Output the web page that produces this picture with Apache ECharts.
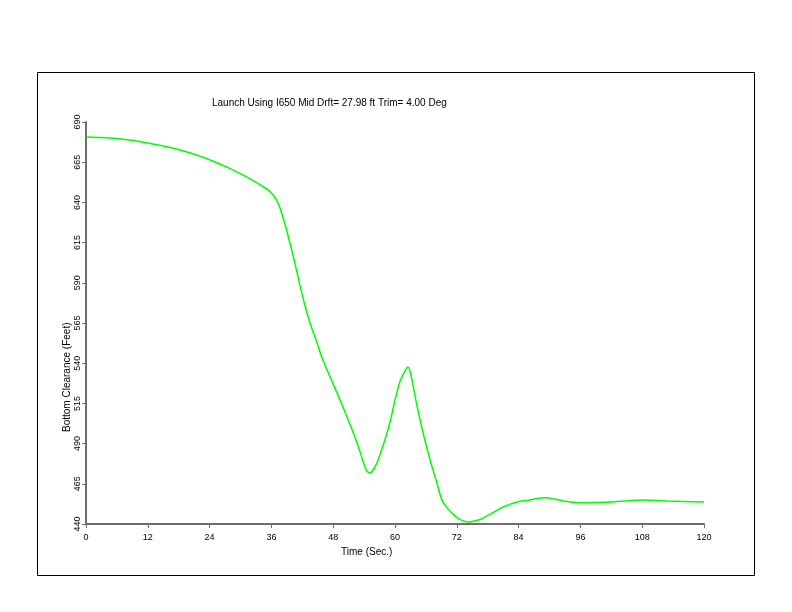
<!DOCTYPE html>
<html>
<head>
<meta charset="utf-8">
<script src="https://cdn.jsdelivr.net/npm/echarts@6/dist/echarts.min.js"></script>
<style>html,body{margin:0;padding:0;background:#fff}#c{width:792px;height:612px}</style>
</head>
<body>
<div id="c"></div>
<script>
const titleText = "Launch Using I650 Mid Drft= 27.98 ft Trim= 4.00 Deg";
const xName = "Time (Sec.)";
const yName = "Bottom Clearance (Feet)";
const yMin = 440, yMax = 690, yStep = 25;
const xMin = 0, xMax = 120, xStep = 12;
const timeSec = [0,4,8,12,16,20,24,28,32,34,35.5,36.5,37.5,38.5,39.5,40.5,41.5,42.5,43.5,44.5,46,48,50,52,53,54,54.5,55,55.5,56.5,58,59,60,61,62,62.5,63,64.3,65.5,66.8,68,69.1,70,71.3,72.5,74.2,76,77.1,79,81,83.7,86,88.2,89.5,91,94,96,102.3,108.2,112.8,120];
const clearanceFt = [680.7,680.2,679,677,674.5,671,666.5,661,654.5,650.5,647.5,644,638,628,616,603,589,576,565,556,542,527,512,496,487,477,473,471.7,472.5,478,492,503,517,529,535.5,537.6,534,513,496,480,467,455,450.5,446,443,441.2,442.3,443.7,447,450.6,453.7,454.8,456.2,456.3,455.5,453.7,453.2,453.7,454.9,454.3,453.7];

const seriesData = timeSec.map((t, i) => [t, clearanceFt[i] - yMin]);
const chart = echarts.init(document.getElementById('c'), null, {renderer: 'canvas'});
const axisCol = '#6e6e6e';
chart.setOption({
  animation: false,
  backgroundColor: '#fff',
  grid: {left: 86, right: 88, top: 122, bottom: 88},
  xAxis: {
    type: 'value', min: xMin, max: xMax, interval: xStep,
    axisLine: {show: true, lineStyle: {color: axisCol, width: 2}},
    axisTick: {show: true, inside: false, length: 4, lineStyle: {color: axisCol, width: 1}},
    axisLabel: {color: '#000', fontSize: 9, fontFamily: 'Liberation Sans', margin: 9},
    splitLine: {show: false}
  },
  yAxis: {
    type: 'value', min: 0, max: yMax - yMin, interval: yStep,
    axisLine: {show: true, lineStyle: {color: axisCol, width: 2}},
    axisTick: {show: true, inside: false, length: 4, lineStyle: {color: axisCol, width: 1}},
    axisLabel: {color: '#000', fontSize: 9, fontFamily: 'Liberation Sans', rotate: 90, margin: 4,
      formatter: v => String(v + yMin)},
    splitLine: {show: false}
  },
  series: [{
    type: 'line', data: seriesData, smooth: 0.3, symbol: 'none',
    lineStyle: {color: '#00ff00', width: 1.5}
  }],
  graphic: [
    {type: 'rect', shape: {x: 37.5, y: 72.5, width: 717, height: 503}, style: {fill: 'none', stroke: '#000', lineWidth: 1}},
    {type: 'text', left: 212, top: 98, style: {text: titleText, font: '10px "Liberation Sans"', fill: '#000'}},
    {type: 'text', x: 341, y: 547, style: {text: xName, font: '10px "Liberation Sans"', fill: '#000'}},
    {type: 'text', x: 62, y: 432, rotation: Math.PI / 2, style: {text: yName, font: '10px "Liberation Sans"', fill: '#000'}}
  ]
});
</script>
</body>
</html>
